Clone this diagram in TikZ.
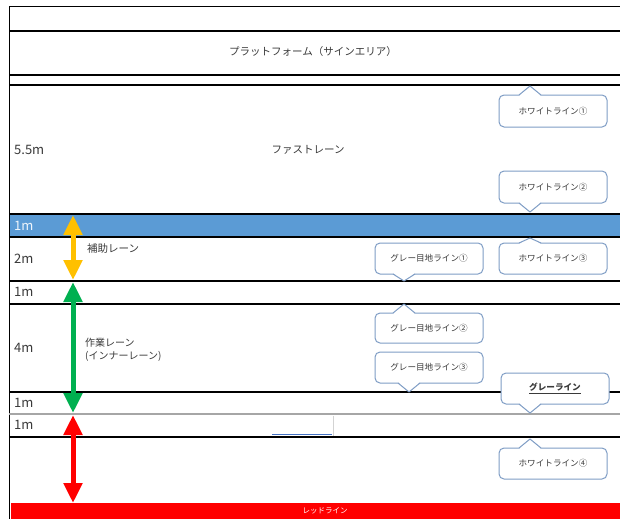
\documentclass[tikz,border=0pt]{standalone}
\usepackage{fontspec}
\setmainfont{Noto Sans CJK JP}
\usetikzlibrary{arrows.meta}
\definecolor{txt}{HTML}{3A3A3A}
\definecolor{bandblue}{HTML}{5B9BD5}
\definecolor{cbcol}{HTML}{7F9DC5}
\definecolor{arrorange}{HTML}{FFC000}
\definecolor{arrgreen}{HTML}{00B050}
\definecolor{arrred}{HTML}{FF0000}
\definecolor{greyline}{HTML}{A6A6A6}
\definecolor{patchblue}{HTML}{4472C4}
\tikzset{
  lane/.style={line width=2.4pt, black},
  glane/.style={line width=2.2pt, greyline},
  lbl/.style={anchor=west, inner sep=0pt, text=txt, font=\fontsize{13}{14}\selectfont},
  jlbl/.style={inner sep=0pt, text=txt, font=\fontsize{10.5}{12}\selectfont},
  cbox/.style={draw=cbcol, fill=white, line width=1pt, rounded corners=5pt},
  cline/.style={draw=cbcol, line width=1pt, line join=round},
  ctext/.style={inner sep=0pt, text=txt, font=\fontsize{8.6}{10}\selectfont},
  dimarrow/.style={line width=5pt, {Triangle[width=18pt,length=20pt]}-{Triangle[width=18pt,length=20pt]}},
}
\newcommand\calloutup[8]{%
  \filldraw[cbox] (#2,#3) rectangle (#4,#5);
  \fill[white] (#6-11,#3+1) -- (#6,#7) -- (#6+11,#3+1) -- cycle;
  \draw[cline] (#6-11,#3) -- (#6,#7) -- (#6+11,#3);
  \node[ctext] (#1) at ({(#2+#4)/2},{(#3+#5)/2}) {#8};
}
\newcommand\calloutdown[8]{%
  \filldraw[cbox] (#2,#3) rectangle (#4,#5);
  \fill[white] (#6-11,#5-1) -- (#6,#7) -- (#6+11,#5-1) -- cycle;
  \draw[cline] (#6-11,#5) -- (#6,#7) -- (#6+11,#5);
  \node[ctext] (#1) at ({(#2+#4)/2},{(#3+#5)/2}) {#8};
}
\begin{document}
\begin{tikzpicture}[x=1pt,y=-1pt]
\useasboundingbox (0,0) rectangle (620,519);
\fill[white] (0,0) rectangle (620,519);
% blue band and red band
\fill[bandblue] (9,214) rectangle (620,237);
\fill[arrred] (11,503) rectangle (620,519);
% frame
\draw[line width=1pt, black] (620,7) -- (9,7) -- (9,519);
% lane lines
\foreach \yy in {31,75,85,214,237,281,304,392,437}
  \draw[lane] (9,\yy) -- (620,\yy);
\draw[glane] (9,414) -- (620,414);
% artefact patch
\fill[white] (268,415.5) rectangle (333,435.5);
\draw[greyline!50, line width=0.6pt] (333,415.5) -- (333,435.5);
\draw[patchblue, line width=1.3pt] (272,434.6) -- (332,434.6);
% texts
\node[jlbl] (platform) at (313,52) {プラットフォーム（サインエリア）};
\node[jlbl] (fast) at (308,150) {ファストレーン};
\node[jlbl, anchor=west] (hojo) at (87,249) {補助レーン};
\node[jlbl, anchor=north west, align=left, font=\fontsize{10}{13}\selectfont] (sagyo) at (85,338) {作業レーン\\(インナーレーン)};
\node[lbl] (m55) at (14,150) {5.5m};
\node[lbl, text=white!90!bandblue] (m1a) at (14,226) {1m};
\node[lbl] (m2) at (14,259) {2m};
\node[lbl] (m1b) at (14,292) {1m};
\node[lbl] (m4) at (14,348) {4m};
\node[lbl] (m1c) at (14,403) {1m};
\node[lbl] (m1d) at (14,425) {1m};
\node[jlbl, text=white, font=\fontsize{7.5}{9}\selectfont] (red) at (325,511) {レッドライン};
% arrows
\coordinate (oa) at (73,215);
\coordinate (ob) at (73,280);
\coordinate (ga) at (73,282);
\coordinate (gb) at (73,413);
\coordinate (ra) at (73,415);
\coordinate (rb) at (73,503);
\draw[dimarrow, arrorange] (oa) -- (ob);
\draw[dimarrow, arrgreen] (ga) -- (gb);
\draw[dimarrow, arrred] (ra) -- (rb);
% callouts
\calloutup{w1}{499}{95}{607}{127}{530}{86}{ホワイトライン①}
\calloutdown{w2}{499}{171}{607}{203}{530}{212}{ホワイトライン②}
\calloutup{w3}{499}{243}{607}{274}{530}{238}{ホワイトライン③}
\calloutdown{g1}{375}{243}{483}{274}{404}{281}{グレー目地ライン①}
\calloutup{g2}{375}{313}{483}{343}{404}{304}{グレー目地ライン②}
\calloutdown{g3}{375}{352}{483}{383}{409}{392}{グレー目地ライン③}
\calloutdown{gl}{501}{373}{609}{404}{530}{413}{\bfseries\underline{グレーライン}}
\calloutup{w4}{499}{448}{607}{479}{530}{439}{ホワイトライン④}
\end{tikzpicture}
\end{document}
